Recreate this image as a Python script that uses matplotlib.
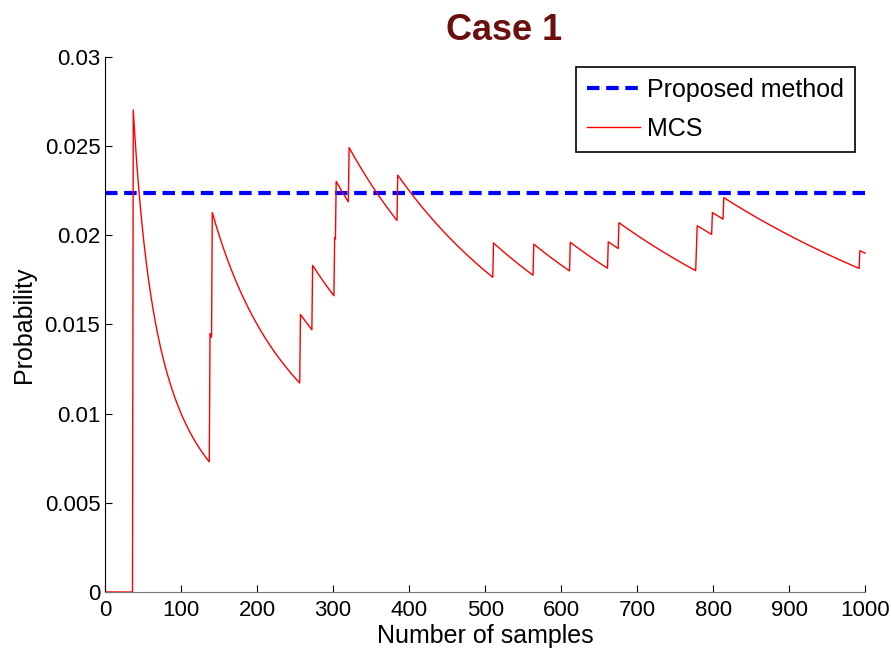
import numpy as np
import matplotlib
matplotlib.use("Agg")
from matplotlib import pyplot as plt

hit_samples = [37, 138, 141, 257, 273, 302, 304, 321, 385, 511,
               564, 612, 662, 676, 778, 779, 799, 814, 993]
n_samples = 1000
proposed_prob = 0.0224

x_ticks = [0, 100, 200, 300, 400, 500, 600, 700, 800, 900, 1000]
y_ticks = [0, 0.005, 0.01, 0.015, 0.02, 0.025, 0.03]
y_labels = ["0", "0.005", "0.01", "0.015", "0.02", "0.025", "0.03"]

# running MCS estimate = hits so far / samples so far
n = np.arange(1, n_samples + 1)
hits = np.zeros(n_samples)
hits[np.array(hit_samples) - 1] = 1
mcs = np.cumsum(hits) / n

plt.rcParams["font.family"] = ["Liberation Sans", "DejaVu Sans"]

fig = plt.figure(figsize=(8.91, 6.58), dpi=100)
ax = fig.add_axes([0.118, 0.1003, 0.853, 0.8131])

ax.plot([0, n_samples], [proposed_prob, proposed_prob], "--", color="#0000ff",
        lw=3, dashes=(3, 1.6), label="Proposed method")
ax.plot(n, mcs, color="#ff0000", lw=1, label="MCS", clip_on=False)

ax.set_xlim(0, 1000)
ax.set_ylim(0, 0.03)
ax.set_xticks(x_ticks)
ax.set_yticks(y_ticks)
ax.set_yticklabels(y_labels)
ax.tick_params(direction="in", length=5, labelsize=16, color="black")
ax.tick_params(axis="x", pad=6)

ax.spines["top"].set_visible(False)
ax.spines["right"].set_visible(False)
ax.spines["left"].set_color("black")
ax.spines["bottom"].set_color("#777777")

ax.set_xlabel("Number of samples", fontsize=18, labelpad=2)
ax.set_ylabel("Probability", fontsize=18, labelpad=6)
ax.set_title("Case 1", fontsize=26, fontweight="bold", color="#6b0f0f",
             pad=12, x=0.525)

leg = ax.legend(loc="upper right", fontsize=18, fancybox=False, framealpha=1,
                edgecolor="black", handlelength=2.1, borderaxespad=0.4,
                labelspacing=0.6, handletextpad=0.3, borderpad=0.45)
leg.get_frame().set_linewidth(1.2)

fig.savefig("out.png", dpi=100)
